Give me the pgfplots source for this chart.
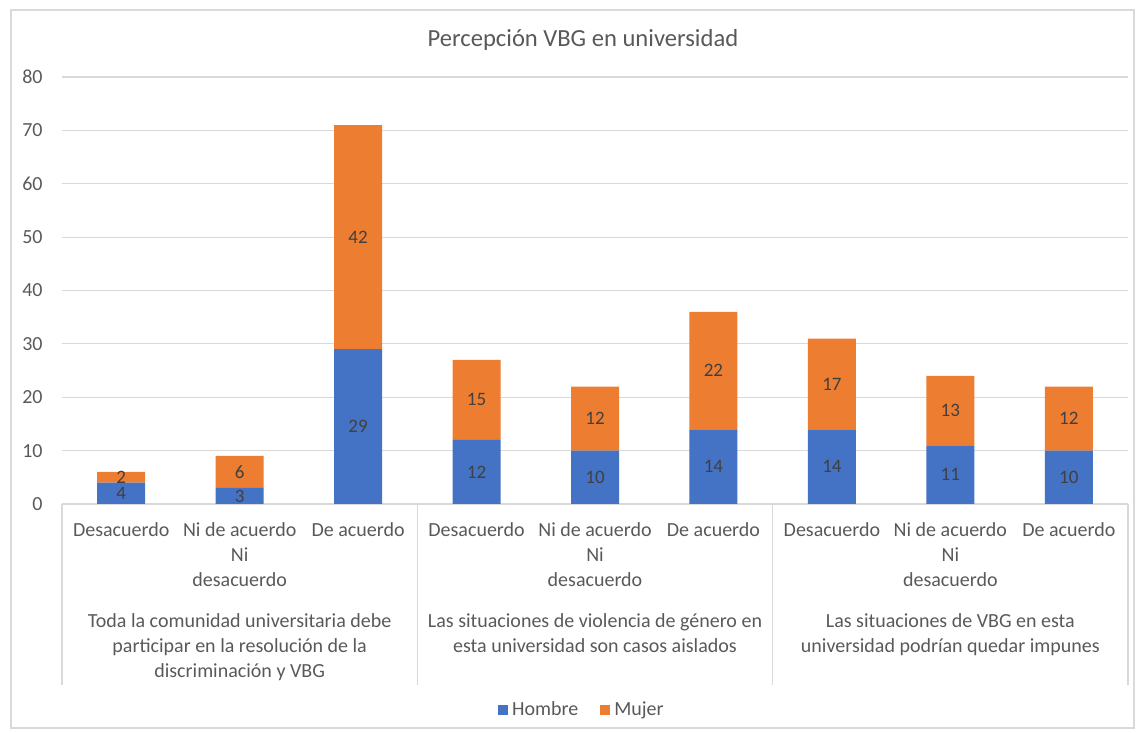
\documentclass[border=0pt]{standalone}
\usepackage{fontspec}
\setmainfont{Carlito}
\usepackage{pgfplots}
\usepackage{pgfplotstable}
\pgfplotsset{compat=1.18}
\definecolor{hombre}{HTML}{4472C4}
\definecolor{mujer}{HTML}{ED7D31}
\definecolor{txt}{HTML}{595959}
\definecolor{gridc}{HTML}{D9D9D9}
\definecolor{lbl}{HTML}{404040}

\pgfplotstableread{
x h m
0 4 2
1 3 6
2 29 42
3 12 15
4 10 12
5 14 22
6 14 17
7 11 13
8 10 12
}\datos

\begin{document}
\begin{tikzpicture}
\begin{axis}[
  name=ax,
  scale only axis,
  width=533pt, height=213.5pt,
  ybar stacked, bar width=24pt,
  xmin=-0.5, xmax=8.5, ymin=0, ymax=80,
  ytick={0,10,...,80},
  xtick={0,...,8},
  xticklabels={Desacuerdo,{Ni de acuerdo\\Ni\\desacuerdo},De acuerdo,
               Desacuerdo,{Ni de acuerdo\\Ni\\desacuerdo},De acuerdo,
               Desacuerdo,{Ni de acuerdo\\Ni\\desacuerdo},De acuerdo},
  major tick length=0pt,
  axis x line*=bottom, axis y line*=left,
  x axis line style={draw=gridc, line width=0.6pt, -},
  y axis line style={draw=none},
  ymajorgrids, grid style={draw=gridc, line width=0.6pt},
  /pgf/number format/assume math mode=true,
  yticklabel style={font=\fontsize{10}{12}\selectfont, text=txt, anchor=east, inner sep=0pt, xshift=-9.5pt},
  xticklabel style={font=\fontsize{10}{12.5}\selectfont, text=txt, align=center, anchor=north, inner sep=0pt, yshift=-9pt},
  clip=false,
  legend style={at={(0.4887,-0.4824)}, anchor=center, draw=none, legend columns=2,
    font=\fontsize{10}{12}\selectfont, text=txt,
    /tikz/every even column/.append style={column sep=9pt}},
  legend image code/.code={\fill[#1] (0pt,-2.5pt) rectangle (5pt,2.5pt);},
  nodes near coords,
  point meta=explicit symbolic,
  every node near coord/.append style={font=\fontsize{9.5}{11}\selectfont, text=lbl, anchor=center},
]
\addplot[fill=hombre, draw=none] table[x=x, y=h, meta=h]{\datos};
\addlegendentry{Hombre}
\addplot[fill=mujer, draw=none] table[x=x, y=m, meta=m]{\datos};
\addlegendentry{Mujer}

\pgfplotsinvokeforeach{-0.5,2.5,5.5,8.5}{
  \draw[gridc, line width=0.6pt] (axis cs:#1,0) -- ([yshift=-90.5pt]axis cs:#1,0);
}
\node[font=\fontsize{10}{12.5}\selectfont, text=txt, align=center, anchor=north, inner sep=0pt, yshift=-54.5pt]
  at (axis cs:1,0) {Toda la comunidad universitaria debe\\participar en la resolución de la\\discriminación y VBG};
\node[font=\fontsize{10}{12.5}\selectfont, text=txt, align=center, anchor=north, inner sep=0pt, yshift=-54.5pt]
  at (axis cs:4,0) {Las situaciones de violencia de género en\\esta universidad son casos aislados};
\node[font=\fontsize{10}{12.5}\selectfont, text=txt, align=center, anchor=north, inner sep=0pt, yshift=-54.5pt]
  at (axis cs:7,0) {Las situaciones de VBG en esta\\universidad podrían quedar impunes};
\node[font=\fontsize{12.3}{14}\selectfont, text=txt, anchor=center] at ([yshift=18.5pt]rel axis cs:0.4887,1) {Percepción VBG en universidad};
\end{axis}
\draw[gridc, line width=0.6pt] ([xshift=-25.5pt,yshift=-112pt]ax.south west) rectangle ([xshift=3pt,yshift=33.5pt]ax.north east);
\pgfresetboundingbox
\path[use as bounding box] ([xshift=-31pt,yshift=-114.5pt]ax.south west) rectangle ([xshift=8.5pt,yshift=38.5pt]ax.north east);
\end{tikzpicture}
\end{document}
